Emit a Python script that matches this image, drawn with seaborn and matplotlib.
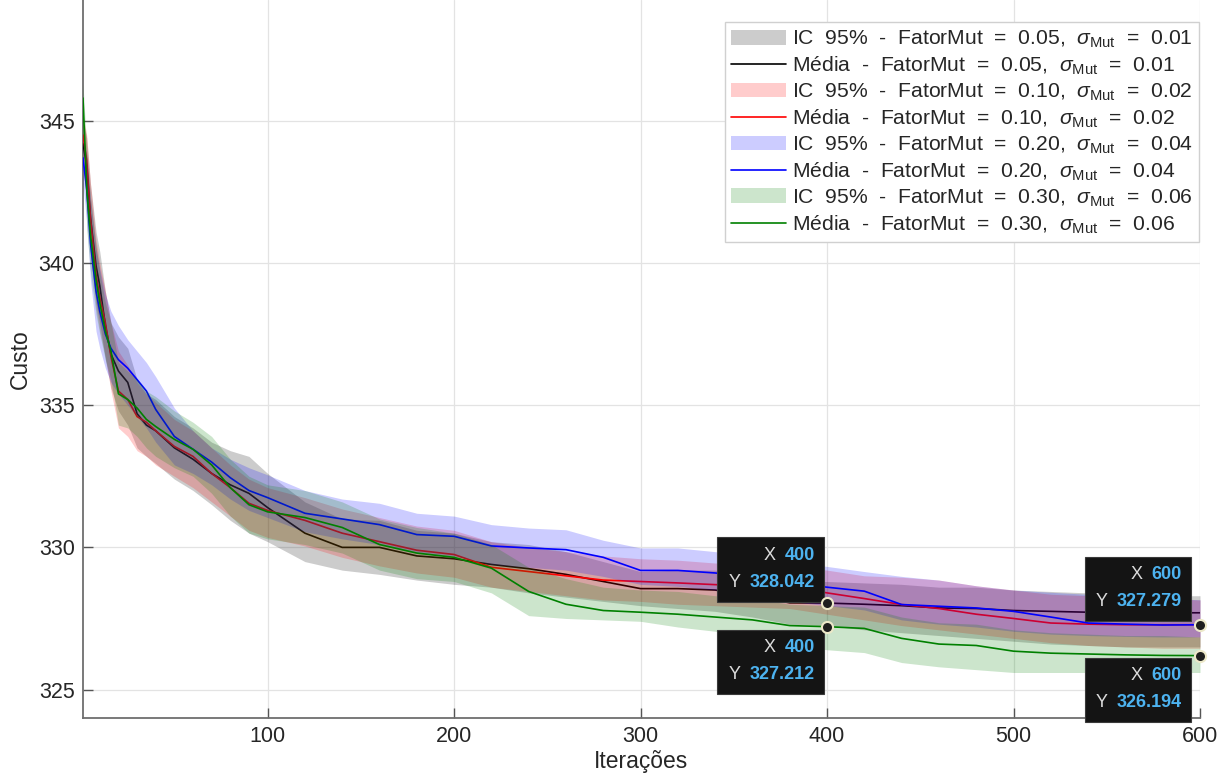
import matplotlib
matplotlib.use("Agg")
import matplotlib.pyplot as plt
import matplotlib.transforms as mtransforms
from matplotlib.patches import Rectangle, Patch
from matplotlib.lines import Line2D
import seaborn as sns

# ---------------- data ----------------
iteracoes = [1, 3, 5, 8, 10, 13, 16, 20, 25, 30, 35, 40, 50, 60, 70, 80, 90, 100,
             120, 140, 160, 180, 200, 220, 240, 260, 280, 300, 320, 340, 360, 380,
             400, 420, 440, 460, 480, 500, 520, 540, 560, 580, 600]

# FatorMut = 0.05, sigma = 0.01 (black)
media_005 = [344.2, 343.4, 341.6, 339.9, 339.2, 337.8, 336.8, 336.2, 335.8, 334.7, 334.3, 334.1,
             333.5, 333.1, 332.6, 332.2, 331.9, 331.4, 330.5, 330.0, 330.0, 329.7, 329.6, 329.4,
             329.25, 329.05, 328.8, 328.55, 328.55, 328.5, 328.3, 328.05, 328.042, 328.0, 327.95,
             327.87, 327.85, 327.78, 327.75, 327.72, 327.72, 327.7, 327.7]
inf_005 = [343.3, 342.3, 340.3, 338.6, 337.9, 336.6, 335.6, 334.8, 334.3, 333.5, 333.2, 332.95,
           332.4, 332.0, 331.5, 330.95, 330.5, 330.2, 329.5, 329.2, 329.05, 328.85, 328.7, 328.6,
           328.4, 328.25, 328.1, 327.95, 327.85, 327.75, 327.55, 327.3, 327.25, 327.1, 327.0,
           326.9, 326.8, 326.7, 326.6, 326.55, 326.5, 326.5, 326.5]
sup_005 = [345.0, 344.4, 342.8, 341.1, 340.4, 339.0, 337.9, 337.4, 337.0, 335.9, 335.4, 335.2,
           334.6, 334.2, 333.7, 333.4, 333.2, 332.6, 331.6, 331.0, 330.95, 330.6, 330.5, 330.2,
           330.1, 329.85, 329.5, 329.15, 329.2, 329.2, 329.0, 328.8, 328.8, 328.75, 328.7,
           328.6, 328.6, 328.5, 328.45, 328.4, 328.35, 328.3, 328.3]

# FatorMut = 0.10, sigma = 0.02 (red)
media_010 = [344.5, 343.6, 341.6, 339.6, 338.8, 337.9, 336.7, 335.5, 335.2, 334.6, 334.4, 334.1,
             333.55, 333.2, 332.6, 332.1, 331.55, 331.3, 330.95, 330.5, 330.2, 329.9, 329.75, 329.3,
             329.15, 329.0, 328.85, 328.8, 328.75, 328.69, 328.65, 328.63, 328.4, 328.2, 327.99,
             327.85, 327.65, 327.5, 327.34, 327.3, 327.28, 327.28, 327.28]
inf_010 = [343.6, 342.6, 340.4, 338.4, 337.6, 336.7, 335.5, 334.2, 333.9, 333.4, 333.2, 332.9,
           332.5, 332.1, 331.6, 331.1, 330.6, 330.35, 330.05, 329.65, 329.35, 329.1, 328.95, 328.6,
           328.45, 328.3, 328.15, 328.1, 328.0, 327.95, 327.9, 327.85, 327.65, 327.45, 327.25,
           327.1, 326.95, 326.8, 326.65, 326.55, 326.5, 326.45, 326.45]
sup_010 = [345.2, 344.5, 342.8, 340.8, 340.0, 339.0, 337.9, 336.9, 336.4, 335.8, 335.4, 335.1,
           334.5, 334.1, 333.5, 332.9, 332.4, 332.1, 331.75, 331.35, 331.05, 330.75, 330.6, 330.2,
           330.0, 329.85, 329.7, 329.6, 329.55, 329.45, 329.4, 329.35, 329.2, 329.0, 328.95,
           328.85, 328.65, 328.5, 328.35, 328.3, 328.25, 328.2, 328.15]

# FatorMut = 0.20, sigma = 0.04 (blue)
media_020 = [343.7, 342.6, 340.7, 339.0, 338.3, 337.5, 337.0, 336.6, 336.3, 335.9, 335.5, 334.85,
             333.9, 333.45, 333.0, 332.45, 332.0, 331.75, 331.2, 331.0, 330.8, 330.45, 330.39, 330.05,
             329.98, 329.92, 329.65, 329.19, 329.19, 329.1, 328.95, 328.75, 328.6, 328.46, 327.99,
             327.93, 327.87, 327.75, 327.55, 327.34, 327.3, 327.27, 327.279]
inf_020 = [342.8, 341.4, 339.4, 337.6, 337.0, 336.3, 335.8, 335.4, 335.0, 334.6, 334.2, 333.7,
           332.9, 332.6, 332.2, 331.7, 331.3, 331.05, 330.55, 330.3, 330.1, 329.8, 329.7, 329.4,
           329.3, 329.2, 328.98, 328.7, 328.63, 328.5, 328.3, 328.1, 327.95, 327.8, 327.45,
           327.3, 327.2, 327.05, 326.95, 326.9, 326.87, 326.85, 326.85]
sup_020 = [344.6, 343.8, 342.3, 340.5, 339.8, 338.9, 338.3, 337.8, 337.3, 336.9, 336.5, 336.0,
           334.9, 334.1, 333.5, 333.1, 332.8, 332.55, 332.0, 331.7, 331.55, 331.2, 331.1, 330.8,
           330.68, 330.62, 330.25, 329.98, 329.98, 329.85, 329.7, 329.5, 329.33, 329.15, 328.98,
           328.85, 328.65, 328.5, 328.42, 328.35, 328.3, 328.2, 328.16]

# FatorMut = 0.30, sigma = 0.06 (green)
media_030 = [345.8, 342.6, 341.0, 339.4, 338.6, 337.6, 336.9, 335.4, 335.2, 334.9, 334.5, 334.25,
             333.8, 333.45, 332.9, 332.1, 331.5, 331.25, 331.05, 330.7, 330.1, 329.8, 329.65, 329.27,
             328.45, 328.0, 327.78, 327.72, 327.65, 327.55, 327.45, 327.25, 327.212, 327.15, 326.8,
             326.6, 326.55, 326.35, 326.28, 326.25, 326.22, 326.2, 326.194]
inf_030 = [345.2, 341.2, 339.7, 338.2, 337.5, 336.6, 335.9, 334.3, 334.2, 333.9, 333.5, 333.2,
           332.8, 332.5, 331.9, 331.1, 330.5, 330.3, 330.1, 329.8, 329.2, 328.9, 328.8, 328.4,
           327.6, 327.5, 327.45, 327.4, 327.2, 327.05, 326.8, 326.55, 326.4, 326.3, 325.95,
           325.8, 325.7, 325.6, 325.6, 325.6, 325.6, 325.6, 325.6]
sup_030 = [346.3, 344.0, 342.3, 340.6, 339.7, 338.6, 337.9, 336.5, 336.2, 335.9, 335.5, 335.3,
           334.8, 334.4, 333.9, 333.1, 332.5, 332.2, 332.0, 331.6, 331.0, 330.7, 330.5, 330.1,
           329.3, 328.9, 328.6, 328.5, 328.45, 328.3, 328.2, 328.0, 327.95, 327.9, 327.55,
           327.35, 327.3, 327.1, 327.0, 326.95, 326.9, 326.9, 326.85]

fator_mut = ["0.05", "0.10", "0.20", "0.30"]
sigma_mut = ["0.01", "0.02", "0.04", "0.06"]

# data tips (x, y)
tips_x = [400, 400, 600, 600]
tips_y = [328.042, 327.212, 327.279, 326.194]

x_ticks = [100, 200, 300, 400, 500, 600]
y_ticks = [325, 330, 335, 340, 345]

# ---------------- style ----------------
sns.set_theme(style="whitegrid")
plt.rcParams["font.family"] = ["Liberation Sans", "DejaVu Sans"]
plt.rcParams["mathtext.fontset"] = "custom"
plt.rcParams["mathtext.rm"] = "Liberation Sans"
plt.rcParams["mathtext.it"] = "Liberation Sans:italic"
plt.rcParams["mathtext.bf"] = "Liberation Sans:bold"

W, H = 1230, 778
fig = plt.figure(figsize=(W / 100, H / 100), dpi=100)
fig.patch.set_facecolor("white")
ax = fig.add_axes([83 / W, 60 / H, (1200 - 83) / W, 718 / H])
ax.set_facecolor("white")

series = [
    (media_005, inf_005, sup_005, "black", "black"),
    (media_010, inf_010, sup_010, "red", "red"),
    (media_020, inf_020, sup_020, "blue", "blue"),
    (media_030, inf_030, sup_030, "#008000", "#008000"),
]

handles, labels = [], []
for i, (m, lo, hi, fc, lc) in enumerate(series):
    z = 2 + 2 * i
    ax.fill_between(iteracoes, lo, hi, color=fc, alpha=0.2,
                    linewidth=0, zorder=z)
    sns.lineplot(x=iteracoes, y=m, ax=ax, color=lc, linewidth=1.2,
                 estimator=None, zorder=z + 1)
    sig = r"$\sigma_{\mathrm{Mut}}$"
    handles.append(Patch(facecolor=fc, alpha=0.2, edgecolor="none"))
    labels.append(f"IC  95%  -  FatorMut  =  {fator_mut[i]},  {sig}  =  {sigma_mut[i]}")
    handles.append(Line2D([], [], color=lc, linewidth=1.2))
    labels.append(f"Média  -  FatorMut  =  {fator_mut[i]},  {sig}  =  {sigma_mut[i]}")

ax.set_xlim(1, 600)
ax.set_ylim(324, 349.25)
ax.set_xticks(x_ticks)
ax.set_yticks(y_ticks)
ax.grid(True, color="#e3e3e3", linewidth=0.9)
ax.set_axisbelow(True)
for s in ["top", "right"]:
    ax.spines[s].set_visible(False)
for s in ["left", "bottom"]:
    ax.spines[s].set_color("#6e6e6e")
    ax.spines[s].set_linewidth(1.3)
ax.tick_params(direction="in", length=7, width=1, color="#555555",
               labelsize=15.5, labelcolor="#262626", pad=6,
               left=True, bottom=True)

ax.set_xlabel("Iterações", fontsize=16.5, color="#262626", labelpad=2)
ax.set_ylabel("Custo", fontsize=16.5, color="#262626", labelpad=5)

leg = ax.legend(handles, labels, loc="upper right", bbox_to_anchor=(0.9995, 0.969),
                fontsize=15.2, frameon=True, fancybox=False, edgecolor="#d0d0d0",
                handlelength=2.6, handletextpad=0.3, labelspacing=0.22,
                borderpad=0.3, borderaxespad=0.0, framealpha=1.0)
leg.get_frame().set_linewidth(1.0)
leg.set_zorder(20)

# ---------------- data tips ----------------
boxes = [(-110, 1, 107, 65), (-110, -67, 107, 64), (-115, 4, 106, 64), (-115, -66, 106, 64)]
for (tx, ty), (bx, by, bw, bh) in zip(zip(tips_x, tips_y), boxes):
    off = mtransforms.ScaledTranslation(tx, ty, ax.transData)
    tr = mtransforms.IdentityTransform() + off
    rect = Rectangle((bx, by), bw, bh, transform=tr, facecolor="#141414",
                     edgecolor="#3a3a3a", linewidth=0.8, zorder=30, clip_on=False)
    ax.add_artist(rect)
    top = by + bh
    right = bx + bw - 9
    for lab, val, dy in (("X", f"{tx:g}", -18), ("Y", f"{ty:.3f}", -45)):
        vt = ax.annotate(val, xy=(tx, ty), xycoords="data",
                         xytext=(right, top + dy), textcoords="offset pixels",
                         ha="right", va="center", fontsize=13, fontweight="bold",
                         color="#4db3f0", zorder=31, annotation_clip=False)
        ax.annotate(lab, xy=(0, 0.5), xycoords=vt, xytext=(-9, 0),
                    textcoords="offset pixels", ha="right", va="center",
                    fontsize=13, color="#dcdcdc", zorder=31, annotation_clip=False)
    ax.plot([tx], [ty], "o", ms=8, mfc="#1e1e1e", mec="#ece8c8", mew=1.5,
            zorder=32, clip_on=False)

fig.savefig("out.png", dpi=100, facecolor="white")
